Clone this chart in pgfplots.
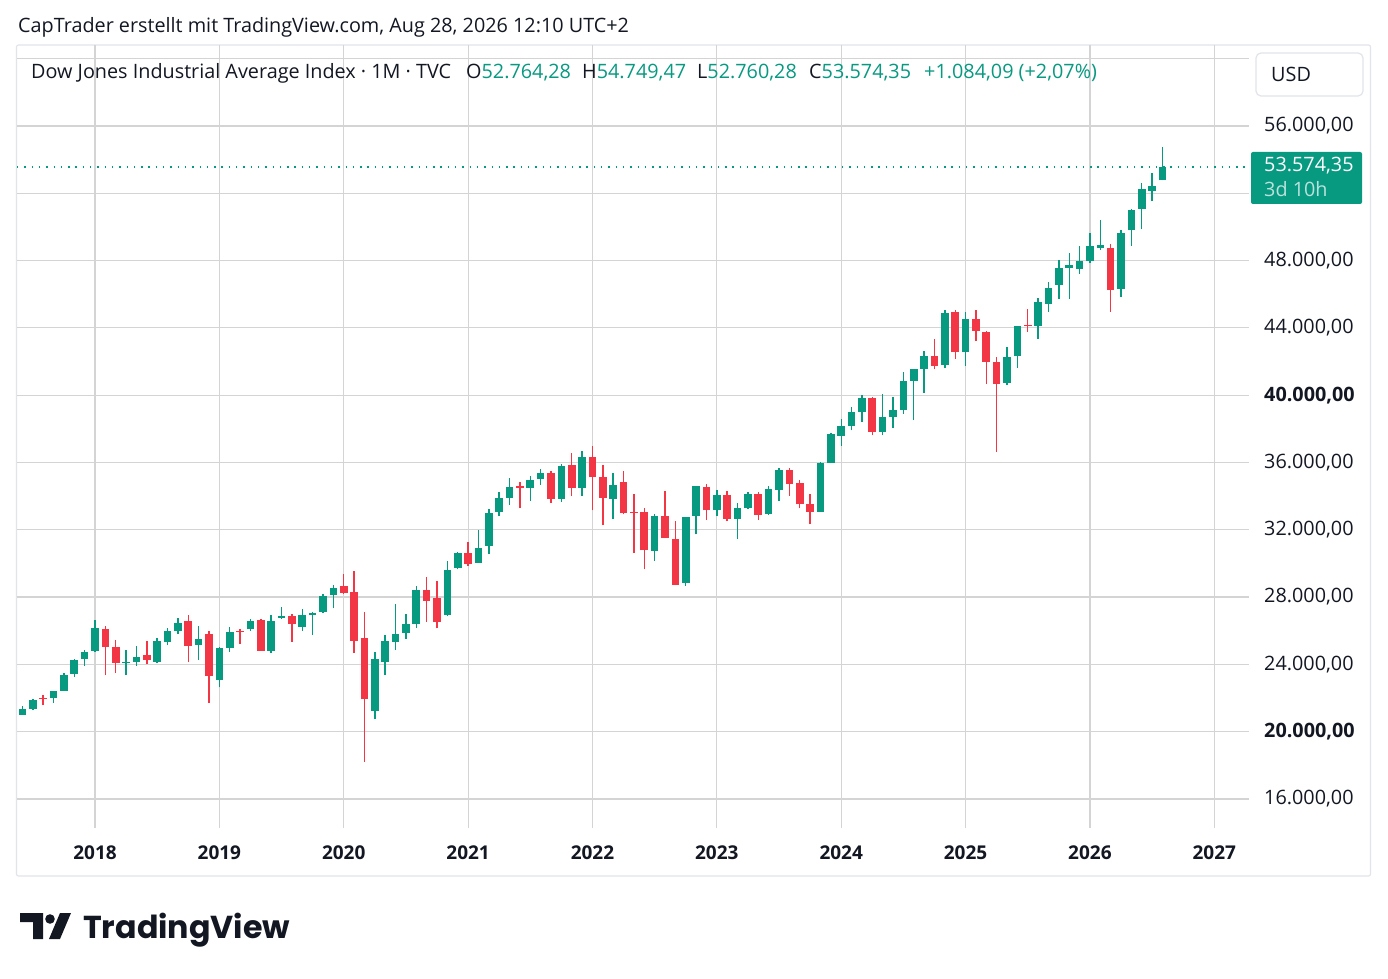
\documentclass[border=0pt]{standalone}
\usepackage{pgfplots}
\pgfplotsset{compat=1.18}
\usepackage{pgfplotstable}
\usepackage{fontspec}
\setmainfont{Open Sans}
\newfontfamily\logofont{Poppins}
\definecolor{tvgreen}{HTML}{089981}
\definecolor{tvred}{HTML}{F23645}
\definecolor{gridc}{RGB}{212,212,212}
\definecolor{framec}{RGB}{226,228,234}
\definecolor{txt}{HTML}{131722}
\newcommand\fs{\fontsize{19.8}{23}\selectfont}
\newcommand\fx{\fontsize{19}{23}\selectfont}

% Monthly OHLC, m = months since Jan 2018
\pgfplotstableread{
m O H L C
-7 21009 21535 20994 21350
-6 21350 21929 21279 21891
-5 21961 22179 21600 21948
-4 21982 22420 21709 22405
-3 22423 23485 22416 23377
-2 23442 24328 23242 24272
-1 24305 24876 23921 24719
0 24809 26617 24741 26149
1 26084 26307 23360 25029
2 25024 25450 23509 24103
3 24076 24858 23345 24163
4 24117 25087 23908 24416
5 24542 25403 24003 24271
6 24161 25552 24077 25415
7 25334 26168 25124 25965
8 25963 26770 25804 26458
9 26598 26952 24122 25116
10 25151 26278 24268 25538
11 25780 25980 21713 23327
12 23058 25057 22639 24999
13 24999 26241 24733 25916
14 25998 26110 25209 25929
15 26075 26696 26007 26593
16 26640 26698 24812 24815
17 24820 26907 24680 26600
18 26786 27399 26723 26864
19 26873 27005 25339 26403
20 26244 27307 25979 26917
21 26962 27123 25743 27046
22 27100 28175 27080 28051
23 28109 28702 27325 28538
24 28639 29374 28170 28256
25 28320 29568 24681 25409
26 25591 27102 18214 21917
27 21227 24764 20735 24346
28 24120 25759 23361 25383
29 25342 27581 24843 25813
30 25879 27000 25524 26428
31 26419 28630 26170 28430
32 28439 29199 26537 27782
33 27941 28958 26143 26502
34 26925 30116 26906 29639
35 29751 30660 29652 30606
36 30628 31272 29857 29983
37 30054 31962 30032 30932
38 31065 33259 30547 32982
39 33054 34257 32814 33875
40 33904 35091 33474 34529
41 34584 34849 33272 34503
42 34507 35171 33741 34935
43 35007 35631 34690 35361
44 35375 35510 33613 33844
45 33844 35892 33680 35820
46 35834 36566 34006 34484
47 34510 36680 34006 36338
48 36321 36953 33150 35132
49 35152 35824 32273 33893
50 33859 35372 32632 34678
51 34835 35493 32913 32977
52 33015 34117 30635 32990
53 33040 33273 29653 30775
54 30737 32910 30143 32845
55 32829 34281 31509 31510
56 31454 32505 28715 28726
57 28855 32762 28660 32733
58 32832 34590 31728 34590
59 34555 34711 32573 33147
60 33148 34342 32812 34086
61 34039 34335 32500 32657
62 32656 33572 31429 33274
63 33275 34257 33235 34098
64 34101 34257 32586 32908
65 32925 34589 32908 34408
66 34381 35679 33706 35560
67 35559 35679 34029 34722
68 34767 34979 33271 33508
69 33506 34142 32327 33053
70 33072 36025 33052 35951
71 35951 37778 35951 37690
72 37566 38561 37006 38150
73 38158 39282 37911 38996
74 38997 40003 38415 39807
75 39806 39889 37612 37816
76 37816 40077 37612 38686
77 38702 39871 38066 39119
78 39116 41376 38904 40843
79 40842 41585 38500 41563
80 41564 42628 40140 42330
81 42321 43325 41531 41763
82 41776 45071 41596 44911
83 44926 45074 42156 42544
84 42553 44967 41731 44545
85 44534 45054 43211 43841
86 43750 43845 40661 42002
87 41982 42248 36612 40669
88 40753 42842 40632 42270
89 42305 44110 41612 44095
90 44156 45152 43782 44131
91 44115 45757 43340 45545
92 45441 46714 44948 46398
93 46576 48040 45728 47563
94 47562 48431 45728 47716
95 47520 48850 47220 47980
96 47980 49620 47850 48860
97 48740 50440 48620 48930
98 48740 48980 44960 46250
99 46330 49800 45850 49620
100 49800 51050 48870 51010
101 51080 52590 49860 52230
102 52140 53210 51520 52430
103 52764.28 54749.47 52760.28 53574.35
}\dji

\pgfplotsset{candle/.style 2 args={draw=none, no markers, forget plot,
  error bars/.cd, y dir=plus, y explicit, error mark=none,
  error bar style={draw=#1, line width=#2, line cap=butt}}}

\begin{document}
\begin{tikzpicture}[x=1pt,y=1pt]
\useasboundingbox (0,0) rectangle (1388,978);
\fill[white] (0,0) rectangle (1388,978);
\draw[framec, line width=1.2pt, rounded corners=2pt] (16.5,933) rectangle (1370.5,102);
\begin{axis}[
  at={(17pt,150pt)}, anchor=south west, scale only axis,
  width=1232pt, height=783pt,
  xmin=-7.526, xmax=111.35, ymin=14276, ymax=60814,
  scaled y ticks=false, scaled x ticks=false,
  axis line style={draw=none}, tick style={draw=none},
  major tick length=0pt,
  grid=major, major grid style={gridc, line width=1.2pt},
  xtick={0,12,24,36,48,60,72,84,96,108},
  xticklabels={2018,2019,2020,2021,2022,2023,2024,2025,2026,2027},
  xticklabel style={font=\fx\bfseries, text=txt, inner sep=0pt, anchor=north, yshift=-18pt},
  ytick={16000,20000,24000,28000,32000,36000,40000,44000,48000,52000,56000,60000},
  yticklabels={{16.000,00},{\textbf{20.000,00}},{24.000,00},{28.000,00},{32.000,00},{36.000,00},{\textbf{40.000,00}},{44.000,00},{48.000,00},{},{56.000,00},{}},
  yticklabel pos=right,
  yticklabel style={font=\fs, text=txt, inner sep=0pt, anchor=west, xshift=15pt},
]
\addplot[tvgreen, line width=1.4pt, dash pattern=on 1.4pt off 5.9pt, forget plot]
  coordinates {(-7.526,53574.35) (111.35,53574.35)};
% wicks
\addplot[candle={tvgreen}{1.4pt}]
  table[x=m, y expr={\thisrow{C}<\thisrow{O} ? nan : \thisrow{L}}, y error expr={\thisrow{H}-\thisrow{L}}]{\dji};
\addplot[candle={tvred}{1.4pt}]
  table[x=m, y expr={\thisrow{C}<\thisrow{O} ? \thisrow{L} : nan}, y error expr={\thisrow{H}-\thisrow{L}}]{\dji};
% bodies
\addplot[candle={tvgreen}{7.6pt}]
  table[x=m, y expr={\thisrow{C}<\thisrow{O} ? nan : \thisrow{O}}, y error expr={max(\thisrow{C}-\thisrow{O},70)}]{\dji};
\addplot[candle={tvred}{7.6pt}]
  table[x=m, y expr={\thisrow{C}<\thisrow{O} ? \thisrow{C} : nan}, y error expr={max(\thisrow{O}-\thisrow{C},70)}]{\dji};
\end{axis}
% title
\node[anchor=base west, inner sep=0pt, font=\fs, text=txt] at (18,945) {CapTrader erstellt mit TradingView.com, Aug 28, 2026 12:10 UTC+2};
% header
\node[anchor=base west, inner sep=0pt, font=\fs, text=txt] at (31,899) {Dow Jones Industrial Average Index · 1M · TVC};
\node[anchor=base west, inner sep=0pt, font=\fs, text=txt] at (466,899) {O\textcolor{tvgreen}{52.764,28}};
\node[anchor=base west, inner sep=0pt, font=\fs, text=txt] at (582,899) {H\textcolor{tvgreen}{54.749,47}};
\node[anchor=base west, inner sep=0pt, font=\fs, text=txt] at (697,899) {L\textcolor{tvgreen}{52.760,28}};
\node[anchor=base west, inner sep=0pt, font=\fs, text=txt] at (809,899) {C\textcolor{tvgreen}{53.574,35}};
\node[anchor=base west, inner sep=0pt, font=\fs, text=tvgreen] at (924,899) {+1.084,09 (+2,07\%)};
% USD box
\draw[framec, line width=1.2pt, fill=white, rounded corners=5pt] (1256,925) rectangle (1363,882);
\node[anchor=west, inner sep=0pt, font=\fs, text=txt] at (1271,904) {USD};
% last price box
\fill[tvgreen, rounded corners=2pt] (1251,826) rectangle (1362,774);
\node[anchor=west, inner sep=0pt, font=\fs, text=white] at (1264,812) {53.574,35};
\node[anchor=west, inner sep=0pt, font=\fs, text=white!72!tvgreen] at (1264,789) {3d 10h};
% TradingView logo
\fill[txt] (20,65) -- (43,65) -- (43,39) -- (33,39) -- (33,56) -- (20,56) -- cycle;
\fill[txt] (50,59) circle (4.8);
\fill[txt] (60,65) -- (71,65) -- (60,39) -- (49,39) -- cycle;
\node[anchor=base west, inner sep=0pt, font=\logofont\bfseries\fontsize{31.7}{35}\selectfont, text=txt] at (83,40) {TradingView};
\end{tikzpicture}
\end{document}
